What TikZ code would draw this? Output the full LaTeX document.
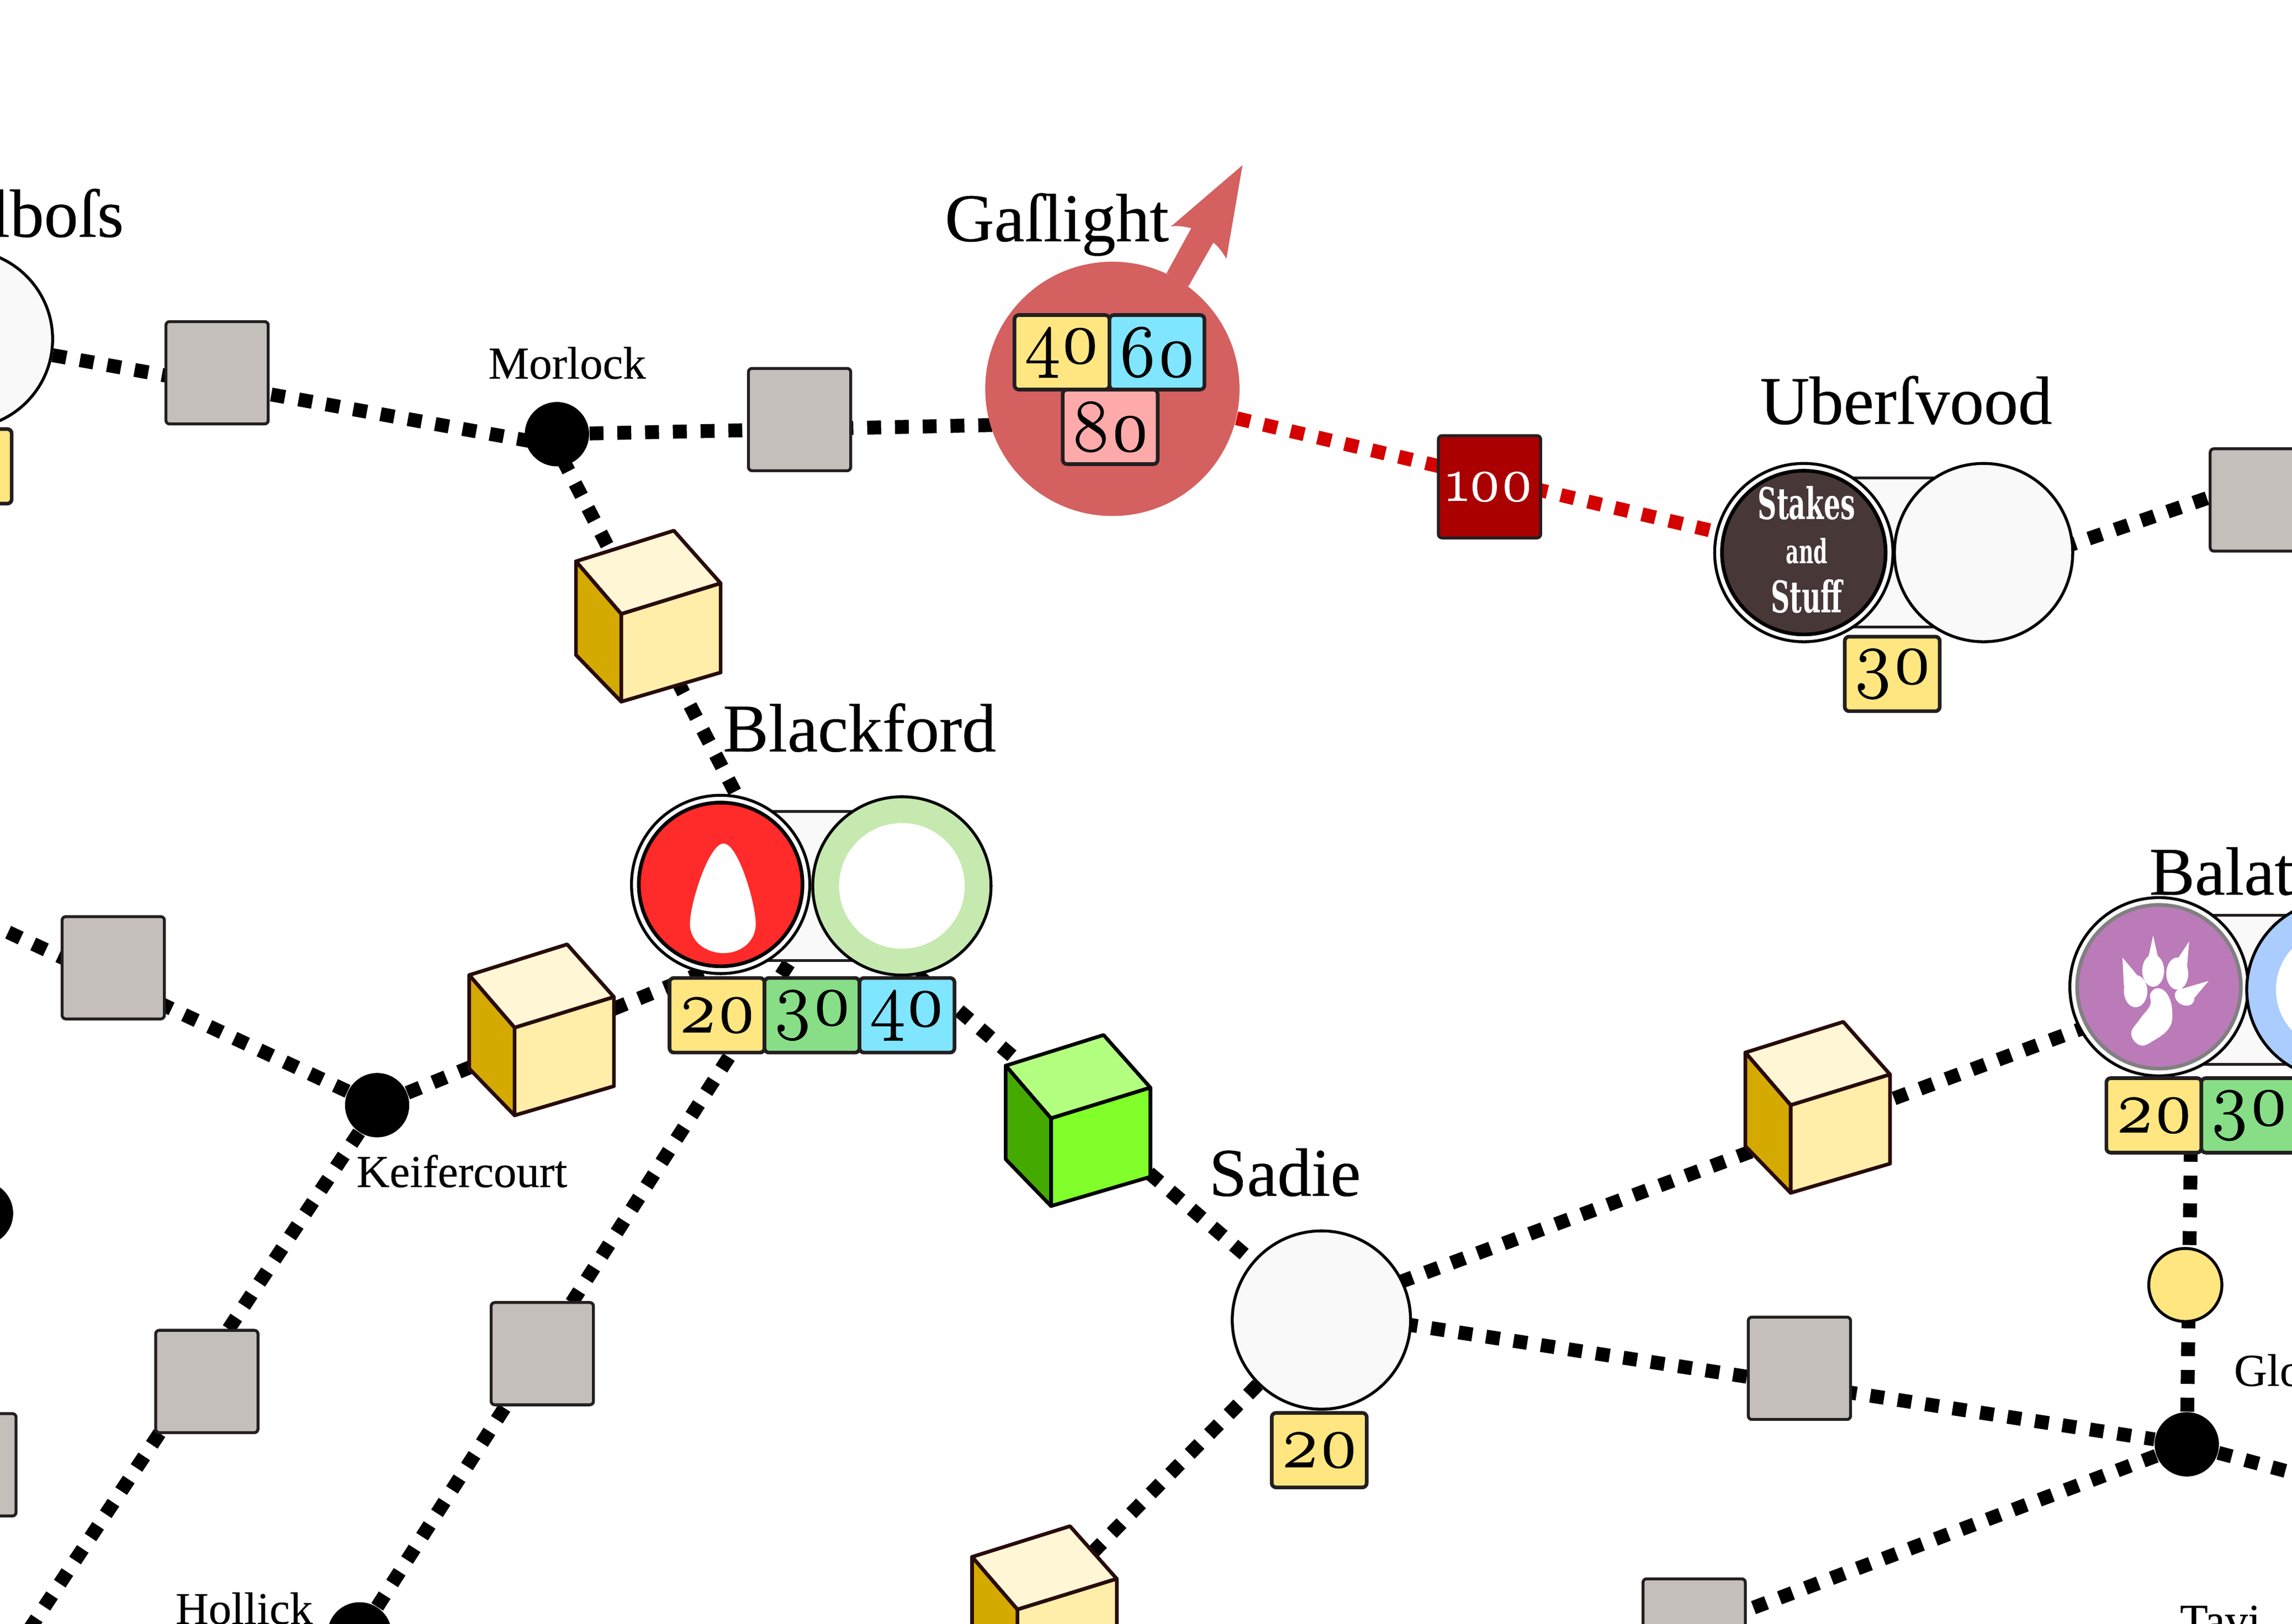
\documentclass[tikz,border=0pt]{standalone}
\usepackage{fontspec}
\setmainfont[FakeBold=0.3]{Liberation Serif}
\newfontfamily\signfont[FakeStretch=0.6]{DejaVu Serif}
\newfontfamily\costfont[Numbers=OldStyle, FakeBold=1.2]{Latin Modern Roman}
\usetikzlibrary{backgrounds}

\definecolor{tileyellow}{HTML}{FFE680}
\definecolor{tilegreen}{HTML}{87DE87}
\definecolor{tilecyan}{HTML}{80E5FF}
\definecolor{tilepink}{HTML}{FFAAAA}
\definecolor{stopgray}{HTML}{C4BFBB}
\definecolor{stopred}{HTML}{AA0000}
\definecolor{townwhite}{HTML}{F9F9F9}
\definecolor{edgedark}{HTML}{231F20}
\definecolor{capred}{HTML}{D46060}
\definecolor{linered}{HTML}{D40000}
\definecolor{stakesbrown}{HTML}{483737}
\definecolor{homered}{HTML}{FF2A2A}
\definecolor{homepurple}{HTML}{BB7AB8}
\definecolor{homegray}{HTML}{808080}
\definecolor{ringgreen}{HTML}{C6E9AF}
\definecolor{ringblue}{HTML}{AACCFF}
\definecolor{cubetop}{HTML}{FFF6D5}
\definecolor{cubefront}{HTML}{FFEEAA}
\definecolor{cubeside}{HTML}{D4AA00}
\definecolor{cubemaroon}{HTML}{280B0B}
\definecolor{limetop}{HTML}{B3FF80}
\definecolor{limefront}{HTML}{80FF2A}
\definecolor{limeside}{HTML}{44AA00}
\newcommand{\costfig}[1]{\raisebox{-0.05cm}{\costfont #1}}
\newcommand{\drawcube}[5]{%
    \begin{scope}[shift={#1}, cubeedge, draw=#5]
        \filldraw[fill=#2] (0,0) -- (67,-21) -- (99,15) -- (31,36) -- cycle;
        \filldraw[fill=#3] (31,36) -- (99,15) -- (99,76) -- (31,96) -- cycle;
        \filldraw[fill=#4] (0,0) -- (31,36) -- (31,96) -- (0,64) -- cycle;
    \end{scope}}
\tikzset{
    track/.style={line width=0.19cm, dash pattern=on 0.19cm off 0.19cm},
    redtrack/.style={track, draw=linered},
    cubeedge/.style={line width=0.05cm, line join=round},
    tile/.style={draw=edgedark, line width=0.05cm, rounded corners=0.06cm, inner sep=0pt,
        minimum width=1.3cm, minimum height=1.02cm, fill=#1,
        font=\fontsize{29}{29}\selectfont},
    stopbox/.style={draw=edgedark, line width=0.04cm, rounded corners=0.05cm, inner sep=0pt,
        minimum size=1.4cm, fill=#1},
    town/.style={circle, draw=black, line width=0.04cm, inner sep=0pt, minimum size=2.44cm, fill=townwhite},
    token/.style={circle, line width=0.05cm, inner sep=0pt, minimum size=2.24cm},
    band/.style={draw=edgedark, line width=0.04cm, inner sep=0pt, minimum width=2.84cm, minimum height=2.04cm, fill=townwhite},
    hole/.style={circle, fill=white, inner sep=0pt},
    junction/.style={circle, fill=black, inner sep=0pt, minimum size=0.88cm},
    bigname/.style={anchor=base, font=\fontsize{26.6}{30}\selectfont, inner sep=0pt},
    smallname/.style={anchor=base, font=\fontsize{17.8}{20}\selectfont, inner sep=0pt},
    signtext/.style={text=white, inner sep=0pt, font=\signfont\bfseries\fontsize{#1}{#1}\selectfont},
    pawpart/.style={fill=white}
}

\begin{document}
\begin{tikzpicture}[x=0.02cm, y=-0.02cm]
    \useasboundingbox (0,0) rectangle (1568,1110.9);

    % towns on the left and top
    \node[town] (ilbofs) at (-25,232) {};
    \node[bigname, anchor=base east] (ilbofsname) at (85,162) {lboſs};
    \node[tile=tileyellow] (ilbofscost) at (-24.5,319) {};

    \node[circle, fill=capred, inner sep=0pt, minimum size=3.48cm] (gaflight) at (761,266) {};
    \coordinate (gaflightin) at (761,289);
    \fill[capred] (798,187) -- (815,156) .. controls (810,155) and (805,154) .. (801,155)
        -- (850,113) -- (839,177) .. controls (836,172) and (833,168) .. (830,166) -- (813,196) -- cycle;
    \node[bigname] (gaflightname) at (723,165) {Gaſlight};
    \node[tile=tileyellow] (gaflightA) at (726.5,241) {\costfig{40}};
    \node[tile=tilecyan] (gaflightB) at (791.5,241) {\costfig{60}};
    \node[tile=tilepink] (gaflightC) at (759.5,292) {\costfig{80}};

    \node[band] (uberband) at (1295,378) {};
    \node[town] (uberleft) at (1234,378) {};
    \node[token, draw=black, fill=stakesbrown] (uberhome) at (1234,378) {};
    \node[signtext=17] (signA) at (1236,344) {Stakes};
    \node[signtext=13] (signB) at (1236,377) {and};
    \node[signtext=17] (signC) at (1236,408) {Stuff};
    \node[town] (uberright) at (1357,378) {};
    \coordinate (uberout) at (1357,393);
    \node[bigname] (ubername) at (1304,290) {Uberſvood};
    \node[tile=tileyellow] (ubercost) at (1294.5,461) {\costfig{30}};

    % middle
    \node[band] (blackband) at (555,606) {};
    \node[town] (blackleft) at (493,605) {};
    \node[token, draw=black, fill=homered] (blackhome) at (493,605) {};
    \fill[white] (495,577) .. controls (485,577) and (472,618) .. (472,632)
        .. controls (472,644) and (483,652) .. (495,652)
        .. controls (507,652) and (517,644) .. (517,632)
        .. controls (517,618) and (505,577) .. (495,577) -- cycle;
    \node[town, fill=ringgreen] (blackright) at (617,606) {};
    \node[hole, minimum size=1.72cm] (blackhole) at (617,606) {};
    \node[bigname] (blackname) at (588,514) {Blackford};
    \node[tile=tileyellow] (blackcostA) at (490.5,694.5) {\costfig{20}};
    \node[tile=tilegreen] (blackcostB) at (555.5,694.5) {\costfig{30}};
    \node[tile=tilecyan] (blackcostC) at (620.5,694.5) {\costfig{40}};
    \coordinate (blackin) at (555,635);
    \coordinate (blackup) at (551,635);
    \coordinate (blackmid) at (555,605);

    \node[town] (sadie) at (904,903) {};
    \coordinate (sadieout) at (904,897);
    \node[bigname] (sadiename) at (879,818) {Sadie};
    \node[tile=tileyellow] (sadiecost) at (902.5,992) {\costfig{20}};

    % right side
    \node[band] (balatband) at (1537,677) {};
    \node[town] (balatleft) at (1477,675) {};
    \node[token, draw=homegray, fill=homepurple] (balathome) at (1477,675) {};
    \begin{scope}[shift={(1477,675)}]
        \fill[pawpart] plot[smooth cycle, tension=0.7] coordinates {(-6,5) (-1,1) (5.6,5) (9,16) (7,28) (-4,37) (-13,40) (-19,32) (-13,22) (-6,12.5)};
        \fill[pawpart] (-4,-11) ellipse (7.5 and 11);
        \fill[pawpart] (-8,-17) -- (-4,-35) -- (0,-17) -- cycle;
        \fill[pawpart] (12.5,-9) ellipse (7.5 and 11);
        \fill[pawpart] (12,-18) -- (20.6,-31) -- (19,-11) -- cycle;
        \fill[pawpart] (-16,3) ellipse (8 and 11);
        \fill[pawpart] (-24,0) -- (-25,-20) -- (-15,-8) -- cycle;
        \fill[pawpart, rotate around={-30:(17.5,7)}] (17.5,7) ellipse (7 and 5.5);
        \fill[pawpart] (17,1) -- (34,-4) -- (23,9) -- cycle;
    \end{scope}
    \node[town, fill=ringblue] (balatright) at (1598,677) {};
    \node[hole, minimum size=1.64cm] (balathole) at (1598,677) {};
    \node[bigname, anchor=base west] (balatname) at (1470,612) {Balat};
    \node[tile=tileyellow] (balatcostA) at (1473.5,763) {\costfig{20}};
    \node[tile=tilegreen] (balatcostB) at (1538.5,763) {\costfig{30}};
    \coordinate (balatin) at (1477,684);
    \coordinate (balatdown) at (1499,770);

    \node[circle, draw=black, line width=0.04cm, fill=tileyellow, inner sep=0pt, minimum size=1cm] (halt) at (1495,879) {};

    % junctions
    \node[junction] (morlock) at (381,297) {};
    \coordinate (morlockwest) at (381,305);
    \coordinate (morlocksouth) at (376,297);
    \node[smallname] (morlockname) at (388,259) {Morlock};
    \node[junction] (keifer) at (258,756) {};
    \node[smallname] (keifername) at (316,812) {Keifercourt};
    \node[junction] (hollick) at (246,1118) {};
    \node[smallname] (hollickname) at (167,1111) {Hollick};
    \node[junction] (glo) at (1496,988) {};
    \node[smallname, anchor=base west] (gloname) at (1528,948) {Glo};
    \node[smallname, anchor=base west] (taviname) at (1491,1119) {Tavi};
    \node[junction] (edgestop) at (-13,830) {};

    % plain stops
    \node[stopbox=stopgray] (stopA) at (148.5,255) {};
    \node[stopbox=stopgray] (stopB) at (547,287) {};
    \node[stopbox=stopgray] (stopC) at (77.5,662) {};
    \node[stopbox=stopgray] (stopD) at (141.5,945) {};
    \node[stopbox=stopgray] (stopE) at (371,926) {};
    \node[stopbox=stopgray] (stopF) at (1231,936) {};
    \node[stopbox=stopgray] (stopG) at (1547,342) {};
    \node[stopbox=stopgray] (stopH) at (-24,1002) {};
    \node[stopbox=stopgray] (stopI) at (1159,1115) {};
    \node[stopbox=stopred, text=white, font=\fontsize{24}{24}\selectfont] (stophundred) at (1019,333) {\costfig{100}};

    % cubes
    \drawcube{(394,384)}{cubetop}{cubefront}{cubeside}{cubemaroon}
    \drawcube{(321,667)}{cubetop}{cubefront}{cubeside}{cubemaroon}
    \drawcube{(688,729)}{limetop}{limefront}{limeside}{black}
    \drawcube{(1194,720)}{cubetop}{cubefront}{cubeside}{cubemaroon}
    \drawcube{(665,1065)}{cubetop}{cubefront}{cubeside}{cubemaroon}

    % free ends of the lines
    \coordinate (endC) at (-30,621);
    \coordinate (endD) at (-10,1160);
    \coordinate (endG) at (1600,310);
    \coordinate (endH) at (1600,1016);
    \coordinate (endI) at (715,1095);

    \begin{scope}[on background layer]
        \draw[track] (ilbofs) -- (morlockwest);
        \draw[track] (morlock) -- (gaflightin);
        \draw[track] (morlocksouth) -- (blackup);
        \draw[track] (keifer) -- (blackin);
        \draw[track] (hollick) -- (blackin);
        \draw[track] (blackmid) -- (sadie);
        \draw[track] (keifer) -- (endC);
        \draw[track] (keifer) -- (endD);
        \draw[track] (sadieout) -- (balatin);
        \draw[track] (sadieout) -- (glo);
        \draw[track] (sadie) -- (endI);
        \draw[track] (glo) -- (stopI);
        \draw[track] (glo) -- (endH);
        \draw[track] (glo) -- (balatdown);
        \draw[track] (uberout) -- (endG);
        \draw[redtrack] (gaflight) -- (uberhome);
    \end{scope}
\end{tikzpicture}
\end{document}
